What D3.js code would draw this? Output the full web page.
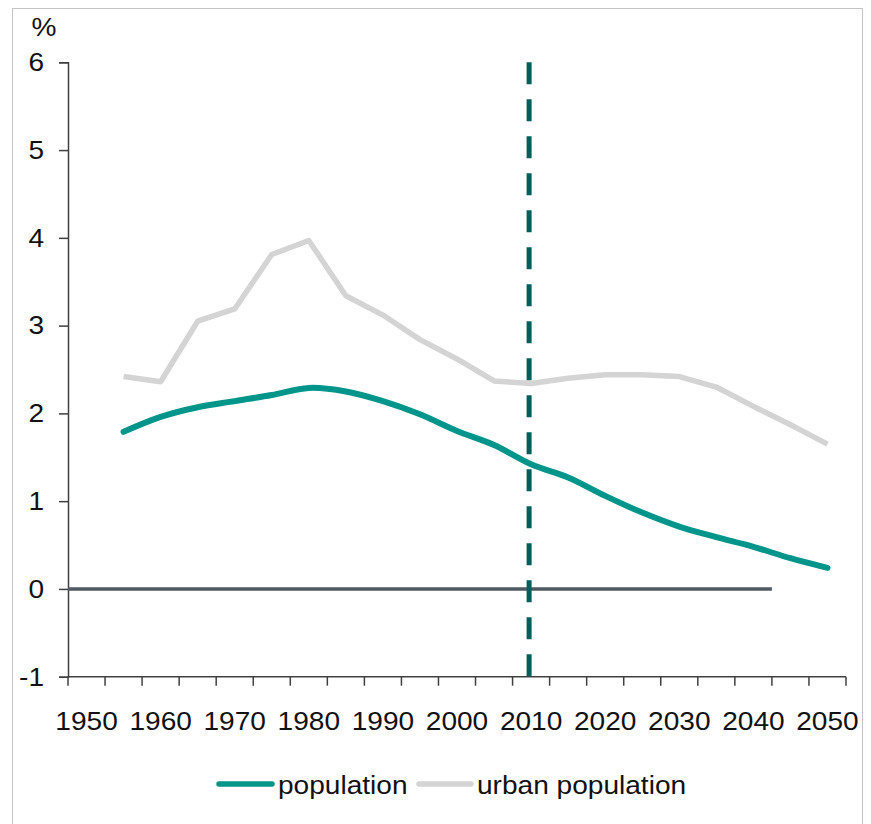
<!DOCTYPE html>
<html>
<head>
<meta charset="utf-8">
<script src="https://cdn.jsdelivr.net/npm/d3@7"></script>
<style>
  html, body { margin: 0; padding: 0; background: #ffffff; }
  svg { display: block; }
  text { font-family: "Liberation Sans", Arial, sans-serif; fill: #111; }
</style>
</head>
<body>
<svg id="chart" width="871" height="824"></svg>
<script>
// ---- Data ----
const years = [1950, 1955, 1960, 1965, 1970, 1975, 1980, 1985, 1990, 1995, 2000,
               2005, 2010, 2015, 2020, 2025, 2030, 2035, 2040, 2045, 2050];
const population = [null, 1.79, 1.96, 2.07, 2.14, 2.21, 2.29, 2.25, 2.14, 1.99, 1.80,
                    1.64, 1.42, 1.27, 1.06, 0.87, 0.71, 0.59, 0.48, 0.35, 0.24];
const urbanPopulation = [null, 2.42, 2.36, 3.05, 3.19, 3.81, 3.97, 3.34, 3.12, 2.84, 2.62,
                         2.37, 2.34, 2.40, 2.44, 2.44, 2.42, 2.30, 2.08, 1.87, 1.65];
const xTickLabels = [1950, 1960, 1970, 1980, 1990, 2000, 2010, 2020, 2030, 2040, 2050];
const yTicks = [-1, 0, 1, 2, 3, 4, 5, 6];
const zeroLineYears = [1950, 2045];
const projectionStart = 2010;
const seriesNames = ["population", "urban population"];

// ---- Setup ----
const svg = d3.select("#chart");
const plot = { left: 68, right: 846, top: 62.3, bottom: 676.7 };
const FONT = 26;
const SX = 1.08; // horizontal stretch of text as in the reference

// frame
svg.append("rect")
  .attr("x", 12.5).attr("y", 8.5)
  .attr("width", 850).attr("height", 840)
  .attr("fill", "none").attr("stroke", "#c4c4c4").attr("stroke-width", 1);

const x = d3.scaleBand().domain(years).range([plot.left, plot.right]).padding(0);
const y = d3.scaleLinear().domain([-1, 6]).range([plot.bottom, plot.top]);
const cx = yr => x(yr) + x.bandwidth() / 2;

function addText(parent, tx, ty, str, anchor) {
  return parent.append("text")
    .attr("transform", `translate(${tx},${ty}) scale(${SX},1)`)
    .attr("text-anchor", anchor || "start")
    .attr("font-size", FONT)
    .text(str);
}

// ---- Y axis ----
const yAxis = d3.axisLeft(y).tickValues(yTicks).tickSize(9).tickPadding(14).tickFormat(d => String(d));
const gy = svg.append("g").attr("transform", `translate(${plot.left},0)`).call(yAxis);
gy.select(".domain").attr("stroke", "#404040").attr("stroke-width", 1.5);
gy.selectAll(".tick line").attr("stroke", "#404040").attr("stroke-width", 1.5);
gy.selectAll(".tick text").attr("font-size", FONT).attr("fill", "#111")
  .attr("font-family", "Liberation Sans, Arial, sans-serif")
  .attr("x", -24 / SX).attr("transform", `scale(${SX},1)`);

// % label
addText(svg, 44, 36, "%", "middle");

// ---- X axis ----
const gx = svg.append("g");
gx.append("line")
  .attr("x1", plot.left).attr("x2", plot.right)
  .attr("y1", y(-1)).attr("y2", y(-1))
  .attr("stroke", "#404040").attr("stroke-width", 1.5);
const tickPositions = years.map(yr => x(yr)).concat([x(years[years.length - 1]) + x.bandwidth()]);
gx.selectAll("line.tick").data(tickPositions).join("line")
  .attr("class", "tick")
  .attr("x1", d => d).attr("x2", d => d)
  .attr("y1", y(-1)).attr("y2", y(-1) + 9)
  .attr("stroke", "#404040").attr("stroke-width", 1.5);
xTickLabels.forEach(d => addText(gx, cx(d), 730, d, "middle"));

// ---- Zero line ----
svg.append("line")
  .attr("x1", x(zeroLineYears[0])).attr("x2", x(zeroLineYears[1]))
  .attr("y1", y(0)).attr("y2", y(0))
  .attr("stroke", "#4f5a62").attr("stroke-width", 3.5);

// ---- Series ----
const popData = years.map((yr, i) => ({ yr, v: population[i] })).filter(d => d.v != null);
const urbData = years.map((yr, i) => ({ yr, v: urbanPopulation[i] })).filter(d => d.v != null);

svg.append("path").datum(urbData)
  .attr("fill", "none").attr("stroke", "#d4d4d4").attr("stroke-width", 5.5)
  .attr("stroke-linejoin", "round").attr("stroke-linecap", "butt")
  .attr("d", d3.line().x(d => cx(d.yr)).y(d => y(d.v)));

svg.append("path").datum(popData)
  .attr("fill", "none").attr("stroke", "#00958a").attr("stroke-width", 6)
  .attr("stroke-linejoin", "round").attr("stroke-linecap", "round")
  .attr("d", d3.line().curve(d3.curveCatmullRom.alpha(0.5)).x(d => cx(d.yr)).y(d => y(d.v)));

// ---- Projection dashed line ----
svg.append("line")
  .attr("x1", cx(projectionStart) - 2).attr("x2", cx(projectionStart) - 2)
  .attr("y1", y(6)).attr("y2", y(-1))
  .attr("stroke", "#005f5a").attr("stroke-width", 5)
  .attr("stroke-dasharray", "22,15");

// ---- Legend ----
const legend = svg.append("g");
const legendItems = [
  { name: seriesNames[0], color: "#00958a", x1: 219, x2: 272, tx: 278 },
  { name: seriesNames[1], color: "#d4d4d4", x1: 419, x2: 471, tx: 477 }
];
legendItems.forEach(it => {
  legend.append("line").attr("x1", it.x1).attr("x2", it.x2)
    .attr("y1", 784).attr("y2", 784)
    .attr("stroke", it.color).attr("stroke-width", 5.5).attr("stroke-linecap", "round");
  addText(legend, it.tx, 794, it.name, "start");
});
</script>
</body>
</html>
